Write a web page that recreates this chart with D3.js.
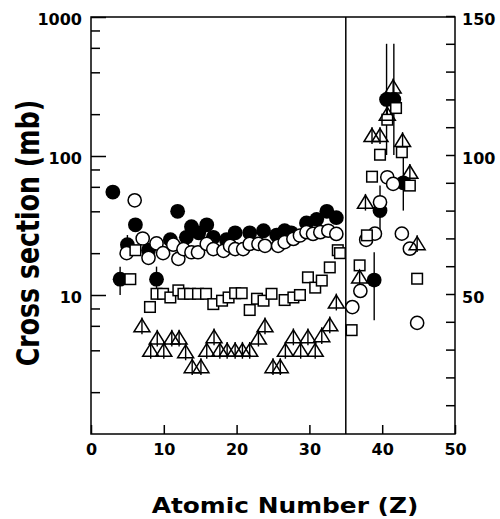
<html>
<head>
  <title>Cross section vs atomic number</title>
  <script src="https://cdn.jsdelivr.net/npm/d3@7"></script>
  <style>
    body { margin: 0; background: #fff; }
    text { font-family: "DejaVu Sans", sans-serif; font-weight: bold; fill: #000; }
    .axis path { display: none; }
    .axis line { stroke: #000; stroke-width: 1.5; }
  </style>
</head>
<body>
<div id="chart"></div>
<script>
  // left of Z=35 values are read on the log axis (mb), right of it on the linear right axis
  const zSplit = 35;

  const filledZ = [3, 4, 5, 6.1, 7.9, 9, 10.9, 11.9, 13.1, 13.8, 14.8, 15.9, 16.8, 18.6, 19.8, 21.8, 23.7, 25.5, 26.6, 27.5, 29.6, 31, 32.4, 33.7, 38.9, 39.7, 40.6, 41.6, 42.9];
  const filledV = [55, 13, 23, 32, 21, 13, 25, 40, 26, 31, 28, 32, 26, 25, 28, 28, 29, 27, 29, 28, 33, 35, 40, 36, 55, 80, 120, 120, 90];
  const filledLo = [null, 10, 19.5, null, null, 10.6, null, null, null, null, null, null, null, null, null, null, null, null, null, null, null, null, null, null, 40.6, 70, 100, 100, 80];
  const filledHi = [null, 16, 27, null, null, 16, null, null, null, null, null, null, null, null, null, null, null, null, null, null, null, null, null, null, 65, 89, 140, 140, 102];

  const openZ = [4.9, 6, 7.1, 7.9, 9, 9.9, 11.3, 12, 12.7, 13.8, 14.7, 15.9, 16.8, 18.2, 19.1, 19.8, 20.9, 21.8, 23, 23.9, 25.7, 26.6, 27.8, 28.7, 29.6, 30.5, 31.5, 32.6, 33.7, 35.9, 37, 37.8, 39, 39.7, 40.7, 41.5, 42.7, 43.8, 44.8];
  const openV = [20, 48, 25.5, 18.5, 23.5, 20, 23, 18.2, 21.4, 20.3, 20.3, 23.3, 21.4, 20.8, 22.6, 21.4, 21.4, 23.3, 23.3, 22.6, 22.6, 24, 25.3, 26.8, 28.3, 27.5, 28.3, 29, 27.5, 45.3, 51.1, 69.5, 71.7, 83, 92, 89.6, 71.7, 66.3, 39.6];

  const squareZ = [5.4, 6.1, 8.1, 9.0, 9.9, 10.9, 12, 12.7, 13.6, 14.7, 15.8, 16.8, 18, 18.9, 19.8, 20.7, 21.8, 22.8, 23.7, 24.8, 26.6, 27.8, 28.7, 29.8, 30.8, 31.7, 32.8, 33.9, 34.2, 35.8, 36.9, 37.9, 38.6, 39.7, 40.7, 41.9, 42.7, 43.8, 44.8];
  const squareV = [13, 21, 8.2, 10.2, 10.2, 9.6, 10.8, 10.2, 10.2, 10.2, 10.2, 8.6, 9.1, 9.6, 10.3, 10.3, 7.8, 9.4, 9.1, 10.2, 9.2, 9.6, 10, 13.4, 11.3, 12.7, 15.8, 21, 20, 37, 60.3, 71.1, 92.2, 100.1, 112.7, 116.9, 101, 89, 55.5];

  const triZ = [7, 8.2, 9.1, 10, 11.1, 12.1, 13, 13.9, 15.1, 15.9, 16.9, 17.7, 18.7, 19.8, 20.8, 21.8, 23, 23.9, 25, 26, 26.7, 27.8, 28.8, 29.8, 30.8, 31.7, 32.8, 33.7, 36.9, 37.7, 38.6, 39.7, 40.7, 41.5, 42.8, 43.8, 44.8];
  const triV = [6, 4, 4.9, 4, 4.9, 4.9, 3.9, 3.05, 3.05, 4, 5, 4, 4, 4, 4, 4, 4.9, 6, 3.05, 3.05, 4, 5, 4, 5, 4, 5.1, 6.1, 8.9, 56.1, 83, 107, 107, 114.7, 124.5, 105.2, 93.8, 68.1];
  const triRelErr = 0.15;   // log side
  const triAbsErr = 3;      // linear side

  const xTicks = [0, 10, 20, 30, 40, 50];
  const leftMajor = [10, 100, 1000];
  const leftMinor = [2, 4, 6, 8, 20, 40, 60, 80, 200, 400, 600, 800];
  const rightMajor = [50, 100, 150];
  const rightMinor = [10, 20, 30, 40, 60, 70, 80, 90, 110, 120, 130, 140];

  const width = 500, height = 519;
  const plotL = 91, plotR = 455, plotT = 17, plotB = 434;

  const x = d3.scaleLinear().domain([0, 50]).range([plotL, plotR]);
  const yLog = d3.scaleLog().domain([1, 1000]).range([plotB, plotT]);
  const yLin = d3.scaleLinear().domain([0, 150]).range([433, 16]);
  const yOf = (z, v) => z < zSplit ? yLog(v) : yLin(v);

  const svg = d3.select("#chart").append("svg")
    .attr("width", width)
    .attr("height", height);

  // axes
  svg.append("g").attr("class", "axis")
    .attr("transform", `translate(${plotL},0)`)
    .call(d3.axisLeft(yLog).tickValues(leftMajor).tickSizeInner(-15).tickSizeOuter(0)
      .tickPadding(9).tickFormat(d3.format("d")))
    .selectAll("text").attr("font-size", 16).attr("dy", "0.45em");
  svg.append("g").attr("class", "axis")
    .attr("transform", `translate(${plotL},0)`)
    .call(d3.axisLeft(yLog).tickValues(leftMinor).tickSizeInner(-9).tickSizeOuter(0).tickFormat(""));

  svg.append("g").attr("class", "axis")
    .attr("transform", `translate(${plotR},0)`)
    .call(d3.axisRight(yLin).tickValues(rightMajor).tickSizeInner(-9).tickSizeOuter(0)
      .tickPadding(7).tickFormat(d3.format("d")))
    .selectAll("text").attr("font-size", 16).attr("dy", "0.5em");
  svg.append("g").attr("class", "axis")
    .attr("transform", `translate(${plotR},0)`)
    .call(d3.axisRight(yLin).tickValues(rightMinor).tickSizeInner(-9).tickSizeOuter(0).tickFormat(""));

  svg.append("g").attr("class", "axis")
    .attr("transform", `translate(0,${plotB})`)
    .call(d3.axisBottom(x).tickValues(xTicks).tickSizeInner(-9).tickSizeOuter(0).tickPadding(10))
    .selectAll("text").attr("font-size", 16);

  // frame and Z=35 divider
  const frame = svg.append("g").attr("stroke", "#000").attr("stroke-width", 1.5).attr("fill", "none");
  frame.append("rect").attr("x", plotL).attr("y", plotT).attr("width", plotR - plotL).attr("height", plotB - plotT);
  frame.append("line").attr("x1", x(zSplit)).attr("x2", x(zSplit)).attr("y1", plotT).attr("y2", plotB);

  // error bars (behind markers)
  const errs = [];
  filledZ.forEach((z, i) => { if (filledLo[i] != null) errs.push([z, filledLo[i], filledHi[i]]); });
  triZ.forEach((z, i) => {
    const v = triV[i];
    if (z < zSplit) errs.push([z, v / (1 + triRelErr), v * (1 + triRelErr)]);
    else errs.push([z, v - triAbsErr, v + triAbsErr]);
  });
  svg.append("g").selectAll("line").data(errs).join("line")
    .attr("x1", d => x(d[0])).attr("x2", d => x(d[0]))
    .attr("y1", d => yOf(d[0], d[1])).attr("y2", d => yOf(d[0], d[2]))
    .attr("stroke", "#000").attr("stroke-width", 1.4);

  // markers
  const pts = (zs, vs) => zs.map((z, i) => [z, vs[i]]);

  svg.append("g").selectAll("circle").data(pts(filledZ, filledV)).join("circle")
    .attr("cx", d => x(d[0])).attr("cy", d => yOf(d[0], d[1])).attr("r", 7.4)
    .attr("fill", "#000");

  svg.append("g").selectAll("circle").data(pts(openZ, openV)).join("circle")
    .attr("cx", d => x(d[0])).attr("cy", d => yOf(d[0], d[1])).attr("r", 6.6)
    .attr("fill", "#fff").attr("stroke", "#000").attr("stroke-width", 1.5);

  svg.append("g").selectAll("rect").data(pts(squareZ, squareV)).join("rect")
    .attr("x", d => x(d[0]) - 5.3).attr("y", d => yOf(d[0], d[1]) - 5.3)
    .attr("width", 10.6).attr("height", 10.6)
    .attr("fill", "#fff").attr("stroke", "#000").attr("stroke-width", 1.5);

  svg.append("g").selectAll("path").data(pts(triZ, triV)).join("path")
    .attr("transform", d => `translate(${x(d[0])},${yOf(d[0], d[1])})`)
    .attr("d", "M0,-7L8,6L-8,6Z")
    .attr("fill", "none").attr("stroke", "#000").attr("stroke-width", 1.5);

  // titles (the original lettering is wider than DejaVu, so stretch it)
  svg.append("text")
    .attr("transform", "translate(285,513) scale(1.13,1)")
    .attr("text-anchor", "middle")
    .attr("font-size", 22)
    .text("Atomic Number (Z)");

  svg.append("text")
    .attr("transform", "translate(39,233) rotate(-90) scale(1.01,1.25)")
    .attr("text-anchor", "middle")
    .attr("font-size", 25)
    .text("Cross section (mb)");
</script>
</body>
</html>
